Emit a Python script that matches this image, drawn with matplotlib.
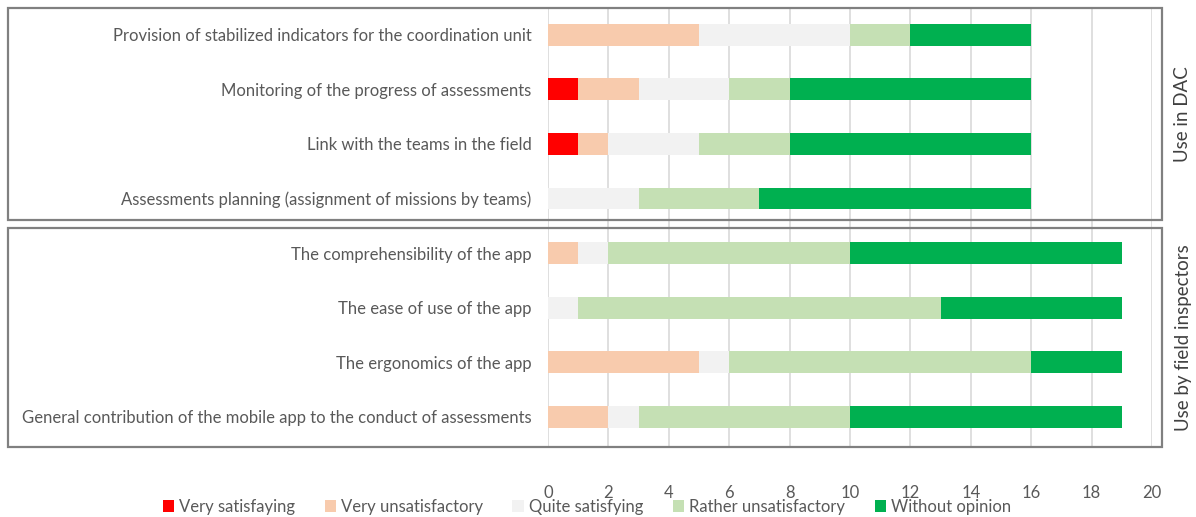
import numpy as np
import matplotlib.pyplot as plt
from matplotlib.patches import Rectangle

# rows, top to bottom
labels = [
    "Provision of stabilized indicators for the coordination unit",
    "Monitoring of the progress of assessments",
    "Link with the teams in the field",
    "Assessments planning (assignment of missions by teams)",
    "The comprehensibility of the app",
    "The ease of use of the app",
    "The ergonomics of the app",
    "General contribution of the mobile app to the conduct of assessments",
]
series = ["Very satisfaying", "Very unsatisfactory", "Quite satisfying",
          "Rather unsatisfactory", "Without opinion"]
very_satisfaying = [0, 1, 1, 0, 0, 0, 0, 0]
very_unsatisfactory = [5, 2, 1, 0, 1, 0, 5, 2]
quite_satisfying = [5, 3, 3, 3, 1, 1, 1, 1]
rather_unsatisfactory = [2, 2, 3, 4, 8, 12, 10, 7]
without_opinion = [4, 8, 8, 9, 9, 6, 3, 9]
groups = ["Use in DAC", "Use by field inspectors"]

values = [very_satisfaying, very_unsatisfactory, quite_satisfying,
          rather_unsatisfactory, without_opinion]
colors = ["#FF0000", "#F8CBAD", "#F2F2F2", "#C5E0B4", "#00B050"]

plt.rcParams['font.family'] = ['Lato', 'DejaVu Sans']
txt = "#595959"

W, H = 1196, 517
fig = plt.figure(figsize=(W / 100, H / 100), dpi=100)
# axes in pixel terms: x 548..1152 for 0..20, y 8..447
ax = fig.add_axes([548 / W, 1 - 447 / H, (1152 - 548) / W, (447 - 8) / H])

y = np.arange(len(labels))
left = np.zeros(len(labels))
for name, vals, c in zip(series, values, colors):
    ax.barh(y, vals, left=left, height=0.4, color=c, label=name, zorder=3)
    left += np.array(vals)

ax.set_xlim(0, 20)
ax.set_ylim(7.55, -0.49)
ax.set_xticks(range(0, 21, 2))
ax.xaxis.grid(True, color="#D9D9D9", linewidth=1.2, zorder=0)
ax.set_yticks(y)
ax.set_yticklabels(labels, fontsize=12, color=txt)
ax.tick_params(axis="y", length=0, pad=12)
ax.tick_params(axis="x", length=0, pad=27, labelsize=12, labelcolor=txt)
for s in ax.spines.values():
    s.set_visible(False)

# group boxes
for (y0, y1) in [(8, 220), (228, 447)]:
    fig.add_artist(Rectangle((8 / W, 1 - y1 / H), (1162 - 8) / W, (y1 - y0) / H,
                             transform=fig.transFigure, fill=False,
                             edgecolor="#808080", linewidth=1.6))

fig.text(1183 / W, 1 - 114 / H, groups[0], rotation=90, ha="center", va="center",
         fontsize=13.5, color="#404040")
fig.text(1183 / W, 1 - 338 / H, groups[1], rotation=90, ha="center", va="center",
         fontsize=13.5, color="#404040")

fig.legend(loc="center", bbox_to_anchor=(587 / W, 1 - 507 / H), ncol=5,
           frameon=False, fontsize=12, labelcolor=txt, handlelength=0.7,
           handleheight=0.7, handletextpad=0.3, columnspacing=1.75)

fig.savefig("out.png", dpi=100)
